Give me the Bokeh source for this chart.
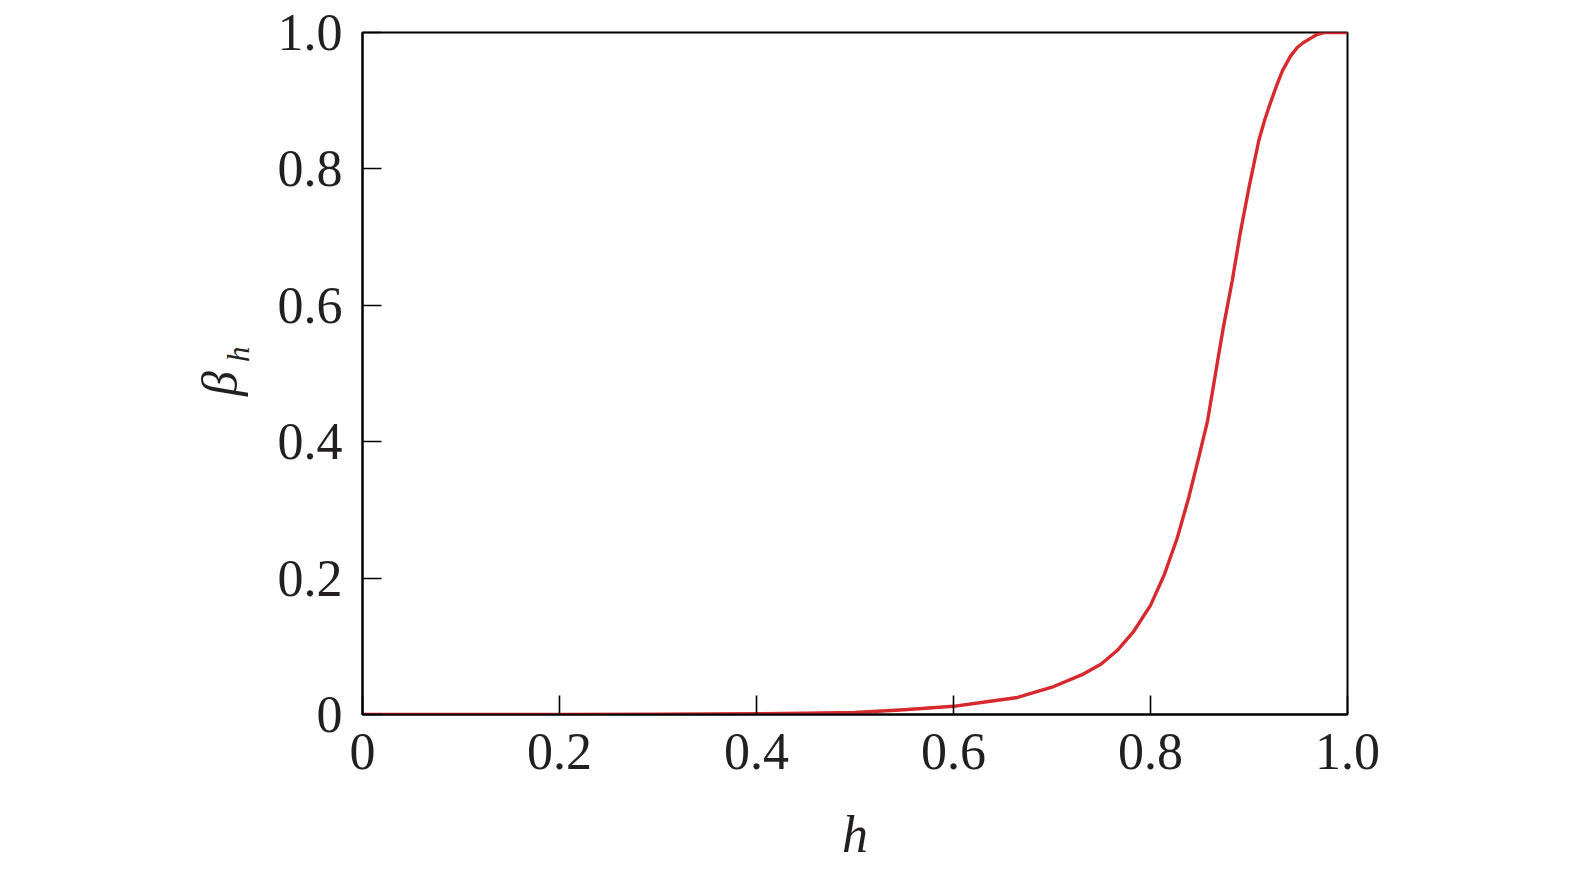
from bokeh.plotting import figure
from bokeh.models import Range1d, FixedTicker, LinearAxis
from bokeh.embed import file_html
from bokeh.resources import INLINE

# data
h_vals = [0.0, 0.1, 0.2, 0.3, 0.4, 0.45, 0.5, 0.55, 0.6, 0.63, 0.665, 0.7, 0.73, 0.75,
          0.767, 0.783, 0.8, 0.814, 0.827, 0.839, 0.849, 0.858, 0.866, 0.874, 0.883,
          0.891, 0.900, 0.910, 0.916, 0.922, 0.928, 0.934, 0.942, 0.949, 0.955, 0.962,
          0.969, 0.976, 0.99, 1.0]
beta_vals = [0.0, 0.0, 0.0, 0.0003, 0.001, 0.002, 0.003, 0.007, 0.012, 0.018, 0.025,
             0.040, 0.058, 0.074, 0.095, 0.122, 0.160, 0.205, 0.258, 0.319, 0.377,
             0.431, 0.500, 0.568, 0.636, 0.705, 0.773, 0.842, 0.872, 0.898, 0.922,
             0.944, 0.965, 0.978, 0.985, 0.991, 0.997, 1.0, 1.0, 1.0]
x_ticks = [0, 0.2, 0.4, 0.6, 0.8, 1.0]
x_tick_labels = ["0", "0.2", "0.4", "0.6", "0.8", "1.0"]
y_ticks = [0, 0.2, 0.4, 0.6, 0.8, 1.0]
y_tick_labels = ["0", "0.2", "0.4", "0.6", "0.8", "1.0"]

FONT = "Liberation Serif"
TXT = "#231f20"

p = figure(width=1575, height=871, output_backend="svg", toolbar_location=None,
           x_range=Range1d(0, 1), y_range=Range1d(0, 1),
           min_border_left=362, min_border_right=228, min_border_top=32,
           min_border_bottom=157)
p.background_fill_color = "white"
p.border_fill_color = "white"
p.grid.visible = False
p.outline_line_color = "black"
p.outline_line_width = 2
p.outline_line_alpha = 1.0

p.line(h_vals, beta_vals, line_color="#d62a2f", line_width=3.4, line_join="round")

for ax, ticks, labels in ((p.xaxis[0], x_ticks, x_tick_labels), (p.yaxis[0], y_ticks, y_tick_labels)):
    ax.ticker = FixedTicker(ticks=ticks)
    ax.major_label_overrides = {t: l for t, l in zip(ticks, labels)}
    ax.minor_tick_line_color = None
    ax.major_tick_in = 19
    ax.major_tick_out = 0
    ax.major_tick_line_color = "black"
    ax.major_tick_line_width = 1.6
    ax.axis_line_color = "black"
    ax.axis_line_width = 2
    ax.major_label_text_font = FONT
    ax.major_label_text_font_size = "52px"
    ax.major_label_text_color = TXT

p.xaxis.major_label_standoff = 19
p.yaxis.major_label_standoff = 20

p.xaxis.axis_label = "h"
p.xaxis.axis_label_text_font = FONT
p.xaxis.axis_label_text_font_style = "italic"
p.xaxis.axis_label_text_font_size = "52px"
p.xaxis.axis_label_text_color = TXT
p.xaxis.axis_label_standoff = 34


def title_axis(text, size, standoff):
    a = LinearAxis(ticker=FixedTicker(ticks=[]), axis_line_color=None,
                   major_tick_line_color=None, minor_tick_line_color=None,
                   major_label_text_font_size="0px")
    a.axis_label = text
    a.axis_label_text_font = FONT
    a.axis_label_text_font_style = "italic"
    a.axis_label_text_font_size = size
    a.axis_label_text_color = TXT
    a.axis_label_standoff = standoff
    return a

# y axis title: beta with subscript h (subscript nearer the axis, shifted up)
p.add_layout(title_axis("\u00a0" * 5 + "h", "31px", 19), "left")
p.add_layout(title_axis("β" + "\u2009" * 2, "50px", -30), "left")

open("out.html", "w").write(file_html(p, INLINE))
